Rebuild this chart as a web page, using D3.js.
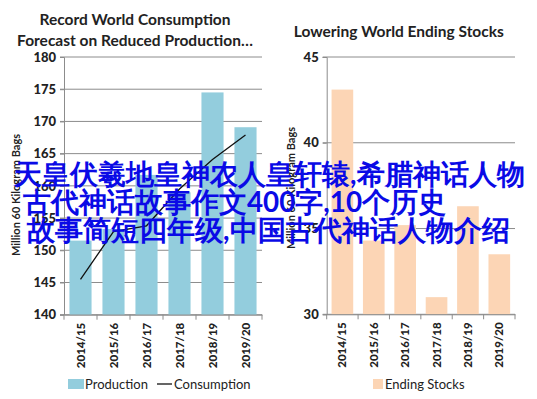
<!DOCTYPE html>
<html>
<head>
<meta charset="utf-8">
<script src="https://cdn.jsdelivr.net/npm/d3@7/dist/d3.min.js"></script>
<style>
  body { margin: 0; background: #fff; }
  svg { display: block; }
  text { font-family: Lato, "Open Sans", sans-serif; }
</style>
</head>
<body>
<svg id="chart" width="537" height="399"></svg>
<script>
// data
const seasons = ["2014/15", "2015/16", "2016/17", "2017/18", "2018/19", "2019/20"];
const production = [151.5, 153.3, 161.7, 159.0, 174.5, 169.1];
const consumption = [145.5, 152.9, 153.8, 159.5, 164.1, 167.9];
const endingStocks = [43.1, 34.3, 35.2, 31.0, 36.3, 33.5];
const leftTicks = [140, 145, 150, 155, 160, 165, 170, 175, 180];
const rightTicks = [30, 35, 40, 45];
const overlay = [
  "天皇伏羲地皇神农人皇轩辕,希腊神话人物",
  "古代神话故事作文400字,10个历史",
  "故事简短四年级,中国古代神话人物介绍"
];

const svg = d3.select("#chart");
const grid = "#8c8c8c";

function panel(o) {
  const g = svg.append("g");
  const x = d3.scaleBand().domain(seasons).range([o.x0, o.x1]).paddingInner(o.pad).paddingOuter(o.pad / 2);
  const y = d3.scaleLinear().domain(o.domain).range([o.yb, o.yt]);

  // titles
  o.title.forEach((t, i) => {
    g.append("text").attr("x", (o.x0 + o.x1) / 2 + o.titleDx).attr("y", o.titleY + i * 21)
      .attr("text-anchor", "middle").attr("font-weight", "bold").attr("font-size", 15.5)
      .attr("fill", "#222").text(t);
  });

  // grid lines
  g.append("g").selectAll("line").data(o.ticks).join("line")
    .attr("x1", o.x0 - 4).attr("x2", o.x1)
    .attr("y1", d => y(d)).attr("y2", d => y(d))
    .attr("stroke", grid).attr("stroke-width", 1);

  // bars
  g.append("g").selectAll("rect").data(o.values).join("rect")
    .attr("x", (d, i) => x(seasons[i])).attr("width", x.bandwidth())
    .attr("y", d => y(d)).attr("height", d => y(o.domain[0]) - y(d))
    .attr("fill", o.color);

  // y axis
  const ya = g.append("g").attr("transform", `translate(${o.x0},0)`)
    .call(d3.axisLeft(y).tickValues(o.ticks).tickSize(4).tickPadding(4));
  ya.select(".domain").attr("stroke", grid);
  ya.selectAll(".tick line").attr("stroke", grid);
  ya.selectAll("text").attr("font-size", 13).attr("font-weight", 900).attr("fill", "#222")
    .attr("font-family", "Lato, sans-serif");

  // x axis
  const xa = g.append("g").attr("transform", `translate(0,${o.yb})`)
    .call(d3.axisBottom(x).tickSize(0).tickPadding(0));
  xa.select(".domain").attr("stroke", grid);
  xa.selectAll("text").attr("font-size", 11.5).attr("font-weight", 900).attr("fill", "#222")
    .attr("font-family", "Lato, sans-serif")
    .attr("transform", "rotate(-90)").attr("text-anchor", "end")
    .attr("dy", "0.35em").attr("x", -8).attr("y", 0);
  g.append("g").selectAll("line").data(d3.range(seasons.length + 1)).join("line")
    .attr("x1", i => o.x0 + i * x.step()).attr("x2", i => o.x0 + i * x.step())
    .attr("y1", o.yb).attr("y2", o.yb + 5)
    .attr("stroke", grid);

  // y label
  g.append("text").attr("transform", `translate(${o.labelX},${o.labelY}) rotate(-90)`)
    .attr("text-anchor", "middle").attr("font-size", 11).attr("font-weight", "bold")
    .attr("fill", "#222").text("Million 60 Kilogram Bags");

  return { g, x, y };
}

const L = panel({
  x0: 64, x1: 262, yt: 57, yb: 314.7, domain: [140, 180], ticks: leftTicks,
  values: production, color: "#93cddd", pad: 0.33,
  title: ["Record World Consumption", "Forecast on Reduced Production\u2026"],
  titleY: 25, titleDx: -28, labelX: 20, labelY: 195
});

const R = panel({
  x0: 326.7, x1: 515, yt: 57, yb: 314.3, domain: [30, 45], ticks: rightTicks,
  values: endingStocks, color: "#fcd5b5", pad: 0.31,
  title: ["Lowering World Ending Stocks"],
  titleY: 37, titleDx: -22, labelX: 295, labelY: 188
});

// consumption line
L.g.append("path").datum(consumption)
  .attr("fill", "none").attr("stroke", "#111").attr("stroke-width", 1.3)
  .attr("d", d3.line().x((d, i) => L.x(seasons[i]) + L.x.bandwidth() / 2).y(d => L.y(d)));

// legends
const leg = svg.append("g").attr("font-size", 13).attr("fill", "#222");
leg.append("rect").attr("x", 68).attr("y", 379).attr("width", 16).attr("height", 10).attr("fill", "#93cddd");
leg.append("text").attr("x", 85).attr("y", 389).text("Production");
leg.append("line").attr("x1", 157).attr("x2", 172).attr("y1", 384).attr("y2", 384).attr("stroke", "#111").attr("stroke-width", 1.3);
leg.append("text").attr("x", 174).attr("y", 389).text("Consumption");
leg.append("rect").attr("x", 373).attr("y", 379).attr("width", 10).attr("height", 10).attr("fill", "#fcd5b5");
leg.append("text").attr("x", 385).attr("y", 389).text("Ending Stocks");

// overlay caption
svg.append("g").selectAll("text").data(overlay).join("text")
  .attr("x", (d, i) => [14, 23, 27][i]).attr("y", (d, i) => 184 + i * 28)
  .attr("font-family", "'Noto Sans CJK SC', sans-serif").attr("font-size", 27.8)
  .attr("font-weight", "bold").attr("fill", "#0a0ae6").text(d => d);
</script>
</body>
</html>
